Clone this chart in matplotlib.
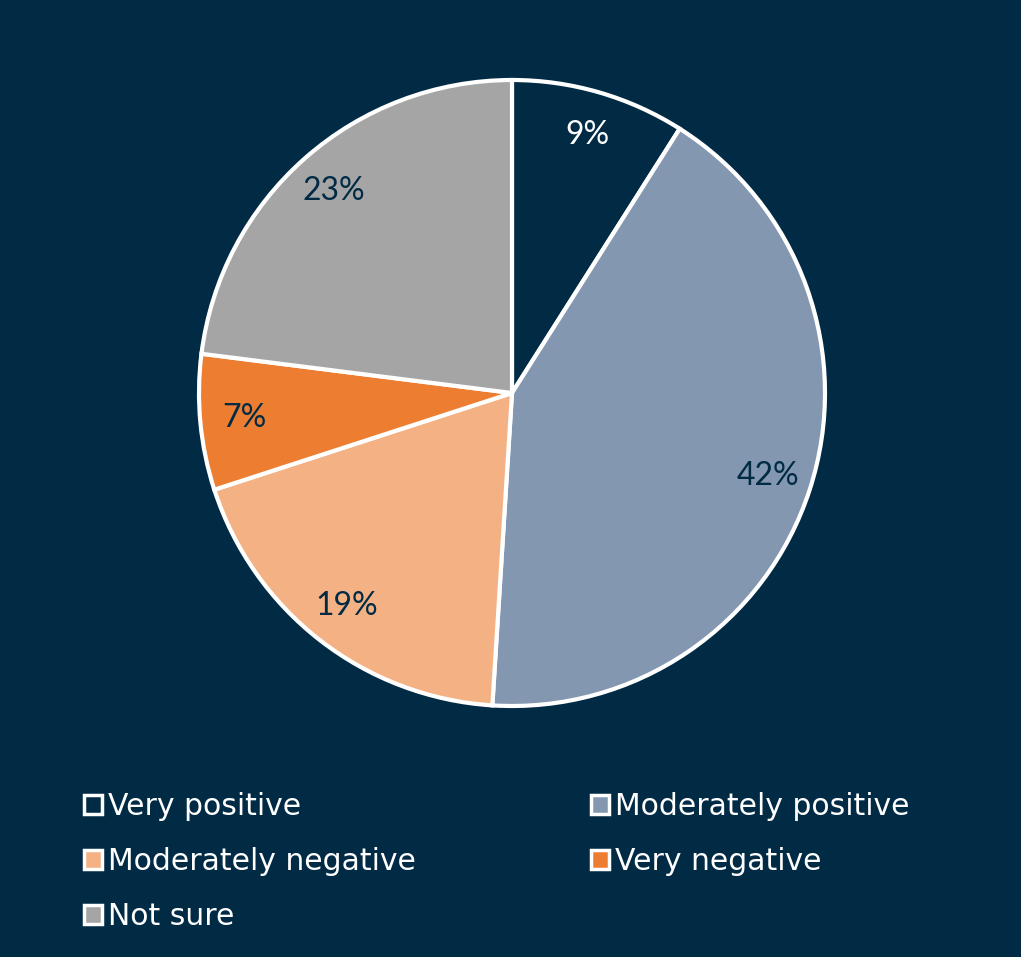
import matplotlib.pyplot as plt
from matplotlib.patches import Patch

labels = ['Very positive', 'Moderately positive', 'Moderately negative', 'Very negative', 'Not sure']
values = [9, 42, 19, 7, 23]
colors = ['#012B45', '#8497B0', '#F4B183', '#ED7D31', '#A5A5A5']
text_colors = ['white', '#012B45', '#012B45', '#012B45', '#012B45']

bg = '#012B45'
plt.rcParams['font.family'] = ['Lato', 'DejaVu Sans']

W, H = 1021, 957
fig = plt.figure(figsize=(W / 100, H / 100), dpi=100, facecolor=bg)

cx, cy, r = 512, 393, 313
ax = fig.add_axes([(cx - r) / W, (H - cy - r) / H, 2 * r / W, 2 * r / H])
ax.set_facecolor(bg)

wedges, texts, autotexts = ax.pie(values, colors=colors, startangle=90, counterclock=False,
                                  autopct='%d%%', pctdistance=0.86,
                                  wedgeprops=dict(edgecolor='white', linewidth=3),
                                  textprops=dict(fontsize=23))
for t, c in zip(autotexts, text_colors):
    t.set_color(c)
ax.set_xlim(-1, 1)
ax.set_ylim(-1, 1)
ax.axis('off')

# legend fills by column, so reorder to read row by row
order = [0, 2, 4, 1, 3]
handles = [Patch(facecolor=colors[i], edgecolor='white', linewidth=2.5) for i in order]
leg = fig.legend(handles, [labels[i] for i in order], loc='upper left',
                 bbox_to_anchor=(57 / W, 1 - 765 / H),
                 ncol=2, frameon=False, labelcolor='white',
                 prop=dict(family='DejaVu Sans', size=21.5),
                 handlelength=0.6, handleheight=0.6, handletextpad=0.22,
                 columnspacing=5.85, labelspacing=0.87)

fig.savefig('out.png', dpi=100, facecolor=bg)
